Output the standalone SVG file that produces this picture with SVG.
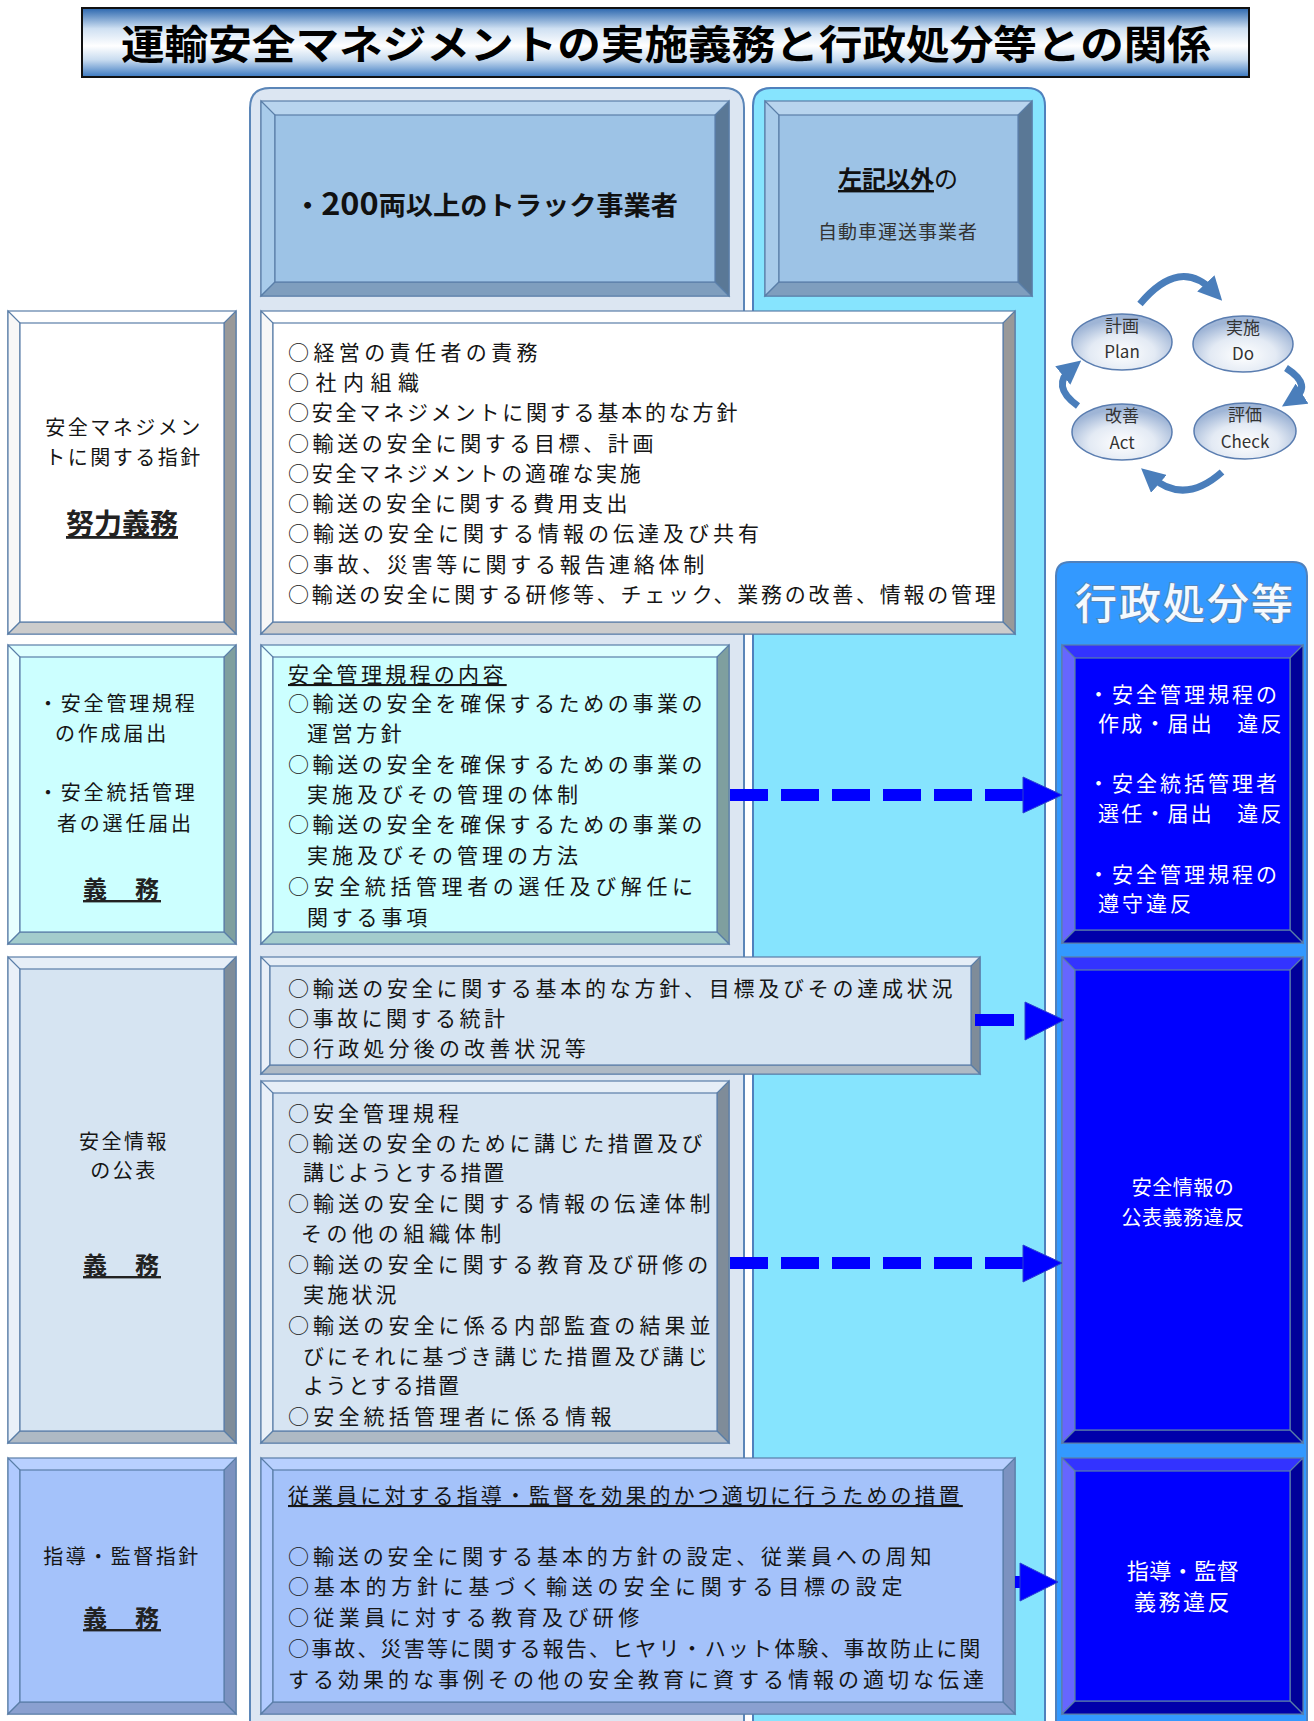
<svg xmlns="http://www.w3.org/2000/svg" width="1314" height="1721" viewBox="0 0 1314 1721">
<defs>
<linearGradient id="gTitle" x1="0" y1="0" x2="0" y2="1">
<stop offset="0" stop-color="#2A66AE"/>
<stop offset="0.3" stop-color="#CFE0F2"/>
<stop offset="0.55" stop-color="#FFFFFF"/>
<stop offset="0.75" stop-color="#C9DCF0"/>
<stop offset="1" stop-color="#3A78C0"/>
</linearGradient>
<radialGradient id="gEll" cx="0.5" cy="0.7" r="0.6">
<stop offset="0" stop-color="#FFFFFF"/>
<stop offset="0.55" stop-color="#E3EAF4"/>
<stop offset="1" stop-color="#9FB5D6"/>
</radialGradient>
<marker id="cyc" viewBox="0 0 10 10" refX="5" refY="5" markerWidth="3.4" markerHeight="3.4" orient="auto">
<path d="M0,0 L10,5 L0,10 z" fill="#4A7EBB"/>
</marker>
<style>
.t{font-family:"Noto Sans CJK JP","Noto Sans CJK SC",sans-serif;font-size:21px;fill:#151515;letter-spacing:3px}
.lb{font-family:"Noto Sans CJK JP","Noto Sans CJK SC",sans-serif;font-size:20px;fill:#151515;letter-spacing:2.5px}
.bd{font-family:"Noto Sans CJK JP","Noto Sans CJK SC",sans-serif;font-weight:bold;fill:#222;text-decoration:underline}
.wt{font-family:"Noto Sans CJK JP","Noto Sans CJK SC",sans-serif;font-size:21px;fill:#FFFFFF;letter-spacing:3px}
.ul{text-decoration:underline}
.mid{text-anchor:middle}
.bv{stroke:#5A7EA8;stroke-width:1.2}
.cn{fill:#DCE6F2;stroke:#5B86B8;stroke-width:2}
.pd{font-family:"Noto Sans CJK JP","Noto Sans CJK SC",sans-serif;font-size:17px;fill:#333;text-anchor:middle}
.dash{stroke:#0000FF;stroke-width:12;stroke-dasharray:38 13;fill:none}
.ah{fill:#0000FF;stroke:#2A3FD0;stroke-width:1}
.cyc{fill:none;stroke:#4A7EBB;stroke-width:7;marker-end:url(#cyc)}
</style>
</defs>

<rect width="1314" height="1721" fill="#FFFFFF"/>

<!-- Title -->
<g id="title">
<rect x="82" y="8" width="1167" height="69" fill="url(#gTitle)" stroke="#111" stroke-width="2"/>
<text x="666" y="59" text-anchor="middle" font-family="Noto Sans CJK JP, Noto Sans CJK SC, sans-serif" font-weight="bold" font-size="40" fill="#000" textLength="1090" lengthAdjust="spacingAndGlyphs">運輸安全マネジメントの実施義務と行政処分等との関係</text>
</g>

<!-- Containers -->
<g id="container-large">
<path class="cn" d="M250,1730 V108 Q250,88 270,88 H724 Q744,88 744,108 V1730"/>
</g>
<g id="container-other">
<path d="M753,1730 V106 Q753,88 771,88 H1027 Q1045,88 1045,106 V1730" fill="#86E4FE" stroke="#4F81BD" stroke-width="2"/>
</g>
<g id="container-sanction">
<path d="M1056,1730 V576 Q1056,562 1070,562 H1293 Q1307,562 1307,576 V1730" fill="#3399FF" stroke="#4F81BD" stroke-width="2"/>
<text x="1185" y="619" text-anchor="middle" font-family="Noto Sans CJK JP, Noto Sans CJK SC, sans-serif" font-size="42" font-weight="500" fill="#F4FAFF" stroke="#5C86B6" stroke-width="2" paint-order="stroke" letter-spacing="2">行政処分等</text>
</g>

<!-- Header 1 -->
<g id="header-200">
<rect class="bv" x="261" y="101" width="468" height="195" fill="#B8D4EE"/>
<polygon class="bv" points="261,101 275,115 275,282 261,296" fill="#A8CBEA"/>
<polygon class="bv" points="729,101 729,296 715,282 715,115" fill="#5A7896"/>
<polygon class="bv" points="261,296 275,282 715,282 729,296" fill="#7F9EBE"/>
<rect class="bv" x="275" y="115" width="440" height="167" fill="#9DC3E6"/>
<text x="486" y="215" text-anchor="middle" font-family="Noto Sans CJK JP, Noto Sans CJK SC, sans-serif" font-weight="bold" font-size="26" fill="#111" textLength="384" lengthAdjust="spacingAndGlyphs">・<tspan font-size="31">200</tspan>両以上のトラック事業者</text>
</g>

<!-- Header 2 -->
<g id="header-other">
<rect class="bv" x="765" y="101" width="267" height="195" fill="#B8D4EE"/>
<polygon class="bv" points="765,101 779,115 779,282 765,296" fill="#A8CBEA"/>
<polygon class="bv" points="1032,101 1032,296 1018,282 1018,115" fill="#5A7896"/>
<polygon class="bv" points="765,296 779,282 1018,282 1032,296" fill="#7F9EBE"/>
<rect class="bv" x="779" y="115" width="239" height="167" fill="#9DC3E6"/>
<text x="898" y="188" text-anchor="middle" font-family="Noto Sans CJK JP, Noto Sans CJK SC, sans-serif" font-size="24" fill="#111"><tspan font-weight="bold" text-decoration="underline">左記以外</tspan>の</text>
<text x="898" y="239" text-anchor="middle" font-family="Noto Sans CJK JP, Noto Sans CJK SC, sans-serif" font-size="19" fill="#333" letter-spacing="1">自動車運送事業者</text>
</g>

<!-- PDCA -->
<g id="pdca-plan">
<ellipse cx="1122" cy="342" rx="50" ry="28" fill="url(#gEll)" stroke="#5A7DB0" stroke-width="1.5"/>
<text class="pd" x="1122" y="332">計画</text>
<text class="pd" x="1122" y="358">Plan</text>
</g>
<g id="pdca-do">
<ellipse cx="1243" cy="344" rx="50" ry="28" fill="url(#gEll)" stroke="#5A7DB0" stroke-width="1.5"/>
<text class="pd" x="1243" y="334">実施</text>
<text class="pd" x="1243" y="360">Do</text>
</g>
<g id="pdca-act">
<ellipse cx="1122" cy="432" rx="50" ry="28" fill="url(#gEll)" stroke="#5A7DB0" stroke-width="1.5"/>
<text class="pd" x="1122" y="422">改善</text>
<text class="pd" x="1122" y="449">Act</text>
</g>
<g id="pdca-check">
<ellipse cx="1245" cy="431" rx="51" ry="28" fill="url(#gEll)" stroke="#5A7DB0" stroke-width="1.5"/>
<text class="pd" x="1245" y="421">評価</text>
<text class="pd" x="1245" y="448">Check</text>
</g>

<!-- Row 1 -->
<g id="label-guideline">
<rect class="bv" x="8" y="311" width="228" height="323" fill="#FFFFFF"/>
<polygon class="bv" points="8,311 20,323 20,622 8,634" fill="#F7F7F7"/>
<polygon class="bv" points="236,311 236,634 224,622 224,323" fill="#999999"/>
<polygon class="bv" points="8,634 20,622 224,622 236,634" fill="#CCCCCC"/>
<rect class="bv" x="20" y="323" width="204" height="299" fill="#FFFFFF"/>
<text class="lb mid" x="124" y="435">安全マネジメン</text>
<text class="lb mid" x="124" y="465">トに関する指針</text>
<text class="bd mid" x="122" y="534" font-size="28">努力義務</text>
</g>
<g id="content-guideline">
<rect class="bv" x="261" y="311" width="754" height="323" fill="#FFFFFF"/>
<polygon class="bv" points="261,311 273,323 273,622 261,634" fill="#F7F7F7"/>
<polygon class="bv" points="1015,311 1015,634 1003,622 1003,323" fill="#999999"/>
<polygon class="bv" points="261,634 273,622 1003,622 1015,634" fill="#CCCCCC"/>
<rect class="bv" x="273" y="323" width="730" height="299" fill="#FFFFFF"/>
<text class="t" x="288" y="360" style="letter-spacing:4.4px">○経営の責任者の責務</text>
<text class="t" x="288" y="390" style="letter-spacing:6.5px">○社内組織</text>
<text class="t" x="288" y="420" style="letter-spacing:2.8px">○安全マネジメントに関する基本的な方針</text>
<text class="t" x="288" y="451" style="letter-spacing:3.6px">○輸送の安全に関する目標、計画</text>
<text class="t" x="288" y="481" style="letter-spacing:2.7px">○安全マネジメントの適確な実施</text>
<text class="t" x="288" y="511" style="letter-spacing:3.5px">○輸送の安全に関する費用支出</text>
<text class="t" x="288" y="541" style="letter-spacing:4px">○輸送の安全に関する情報の伝達及び共有</text>
<text class="t" x="288" y="572" style="letter-spacing:3.7px">○事故、災害等に関する報告連絡体制</text>
<text class="t" x="288" y="602" style="letter-spacing:2.75px">○輸送の安全に関する研修等、チェック、業務の改善、情報の管理</text>
</g>

<!-- Row 2 -->
<g id="label-rules">
<rect class="bv" x="8" y="645" width="228" height="299" fill="#DDFFFF"/>
<polygon class="bv" points="8,645 20,657 20,932 8,944" fill="#E8FFFF"/>
<polygon class="bv" points="236,645 236,944 224,932 224,657" fill="#7F9F9F"/>
<polygon class="bv" points="8,944 20,932 224,932 236,944" fill="#A3CCCC"/>
<rect class="bv" x="20" y="657" width="204" height="275" fill="#CCFFFF"/>
<text class="lb" x="38" y="711" style="letter-spacing:2.8px">・安全管理規程</text>
<text class="lb" x="55" y="741" style="letter-spacing:2.8px">の作成届出</text>
<text class="lb" x="38" y="800" style="letter-spacing:2.8px">・安全統括管理</text>
<text class="lb" x="57" y="831" style="letter-spacing:2.8px">者の選任届出</text>
<text class="bd mid" x="122" y="898" font-size="24" letter-spacing="2">義　務</text>
</g>
<g id="content-rules">
<rect class="bv" x="261" y="645" width="468" height="299" fill="#DDFFFF"/>
<polygon class="bv" points="261,645 273,657 273,932 261,944" fill="#E8FFFF"/>
<polygon class="bv" points="729,645 729,944 717,932 717,657" fill="#7F9F9F"/>
<polygon class="bv" points="261,944 273,932 717,932 729,944" fill="#A3CCCC"/>
<rect class="bv" x="273" y="657" width="444" height="275" fill="#CCFFFF"/>
<text class="t ul" x="288" y="682" style="letter-spacing:3.3px">安全管理規程の内容</text>
<text class="t" x="288" y="711" style="letter-spacing:3.6px">○輸送の安全を確保するための事業の</text>
<text class="t" x="307" y="741" style="letter-spacing:3.6px">運営方針</text>
<text class="t" x="288" y="772" style="letter-spacing:3.6px">○輸送の安全を確保するための事業の</text>
<text class="t" x="307" y="802" style="letter-spacing:4px">実施及びその管理の体制</text>
<text class="t" x="288" y="832" style="letter-spacing:3.6px">○輸送の安全を確保するための事業の</text>
<text class="t" x="307" y="863" style="letter-spacing:4px">実施及びその管理の方法</text>
<text class="t" x="288" y="894" style="letter-spacing:4.6px">○安全統括管理者の選任及び解任に</text>
<text class="t" x="307" y="925" style="letter-spacing:3.8px">関する事項</text>
</g>

<!-- Row 3 -->
<g id="label-disclosure">
<rect class="bv" x="8" y="957" width="228" height="486" fill="#E6EEF7"/>
<polygon class="bv" points="8,957 20,969 20,1431 8,1443" fill="#E9F0F8"/>
<polygon class="bv" points="236,957 236,1443 224,1431 224,969" fill="#7F8C99"/>
<polygon class="bv" points="8,1443 20,1431 224,1431 236,1443" fill="#AEB9C4"/>
<rect class="bv" x="20" y="969" width="204" height="462" fill="#D6E4F2"/>
<text class="lb mid" x="124" y="1149">安全情報</text>
<text class="lb mid" x="124" y="1178">の公表</text>
<text class="bd mid" x="122" y="1274" font-size="24" letter-spacing="2">義　務</text>
</g>
<g id="content-disclosure-a">
<rect class="bv" x="261" y="957" width="719" height="117" fill="#E6EEF7"/>
<polygon class="bv" points="261,957 270,966 270,1065 261,1074" fill="#E9F0F8"/>
<polygon class="bv" points="980,957 980,1074 971,1065 971,966" fill="#7F8C99"/>
<polygon class="bv" points="261,1074 270,1065 971,1065 980,1074" fill="#AEB9C4"/>
<rect class="bv" x="270" y="966" width="701" height="99" fill="#D6E4F2"/>
<text class="t" x="288" y="996" style="letter-spacing:3.75px">○輸送の安全に関する基本的な方針、目標及びその達成状況</text>
<text class="t" x="288" y="1026" style="letter-spacing:3.5px">○事故に関する統計</text>
<text class="t" x="288" y="1056" style="letter-spacing:4.15px">○行政処分後の改善状況等</text>
</g>
<g id="content-disclosure-b">
<rect class="bv" x="261" y="1081" width="468" height="362" fill="#E6EEF7"/>
<polygon class="bv" points="261,1081 273,1093 273,1431 261,1443" fill="#E9F0F8"/>
<polygon class="bv" points="729,1081 729,1443 717,1431 717,1093" fill="#7F8C99"/>
<polygon class="bv" points="261,1443 273,1431 717,1431 729,1443" fill="#AEB9C4"/>
<rect class="bv" x="273" y="1093" width="444" height="338" fill="#D6E4F2"/>
<text class="t" x="288" y="1121" style="letter-spacing:4px">○安全管理規程</text>
<text class="t" x="288" y="1151" style="letter-spacing:3.6px">○輸送の安全のために講じた措置及び</text>
<text class="t" x="303" y="1180" style="letter-spacing:1.6px">講じようとする措置</text>
<text class="t" x="288" y="1211" style="letter-spacing:4.1px">○輸送の安全に関する情報の伝達体制</text>
<text class="t" x="301" y="1241" style="letter-spacing:4.6px">その他の組織体制</text>
<text class="t" x="288" y="1272" style="letter-spacing:3.95px">○輸送の安全に関する教育及び研修の</text>
<text class="t" x="303" y="1302" style="letter-spacing:3.2px">実施状況</text>
<text class="t" x="288" y="1333" style="letter-spacing:4.1px">○輸送の安全に係る内部監査の結果並</text>
<text class="t" x="303" y="1364" style="letter-spacing:3px">びにそれに基づき講じた措置及び講じ</text>
<text class="t" x="303" y="1393" style="letter-spacing:1.6px">ようとする措置</text>
<text class="t" x="288" y="1424" style="letter-spacing:4.2px">○安全統括管理者に係る情報</text>
</g>

<!-- Row 4 -->
<g id="label-guidance">
<rect class="bv" x="8" y="1458" width="228" height="256" fill="#B8D0FF"/>
<polygon class="bv" points="8,1458 20,1470 20,1702 8,1714" fill="#B0CAFF"/>
<polygon class="bv" points="236,1458 236,1714 224,1702 224,1470" fill="#7C92C0"/>
<polygon class="bv" points="8,1714 20,1702 224,1702 236,1714" fill="#8AA0D0"/>
<rect class="bv" x="20" y="1470" width="204" height="232" fill="#A4C2FA"/>
<text class="lb mid" x="122" y="1564">指導・監督指針</text>
<text class="bd mid" x="122" y="1627" font-size="24" letter-spacing="2">義　務</text>
</g>
<g id="content-guidance">
<rect class="bv" x="261" y="1458" width="754" height="256" fill="#B8D0FF"/>
<polygon class="bv" points="261,1458 273,1470 273,1702 261,1714" fill="#B0CAFF"/>
<polygon class="bv" points="1015,1458 1015,1714 1003,1702 1003,1470" fill="#7C92C0"/>
<polygon class="bv" points="261,1714 273,1702 1003,1702 1015,1714" fill="#8AA0D0"/>
<rect class="bv" x="273" y="1470" width="730" height="232" fill="#A4C2FA"/>
<text class="t ul" x="288" y="1503" style="letter-spacing:3.1px">従業員に対する指導・監督を効果的かつ適切に行うための措置</text>
<text class="t" x="288" y="1564" style="letter-spacing:3.9px">○輸送の安全に関する基本的方針の設定、従業員への周知</text>
<text class="t" x="288" y="1594" style="letter-spacing:4.8px">○基本的方針に基づく輸送の安全に関する目標の設定</text>
<text class="t" x="288" y="1625" style="letter-spacing:4.4px">○従業員に対する教育及び研修</text>
<text class="t" x="288" y="1656" style="letter-spacing:2.15px">○事故、災害等に関する報告、ヒヤリ・ハット体験、事故防止に関</text>
<text class="t" x="288" y="1687" style="letter-spacing:4px">する効果的な事例その他の安全教育に資する情報の適切な伝達</text>
</g>

<!-- Sanction boxes -->
<g id="sanction-rules">
<rect class="bv" x="1062" y="645" width="241" height="298" fill="#3333FF"/>
<polygon class="bv" points="1062,645 1075,658 1075,930 1062,943" fill="#6666FF"/>
<polygon class="bv" points="1303,645 1303,943 1290,930 1290,658" fill="#000099"/>
<polygon class="bv" points="1062,943 1075,930 1290,930 1303,943" fill="#0000AA"/>
<rect class="bv" x="1075" y="658" width="215" height="272" fill="#0000FF"/>
<text class="wt" x="1088" y="702">・安全管理規程の</text>
<text class="wt" x="1098" y="731" style="letter-spacing:2.2px">作成・届出　違反</text>
<text class="wt" x="1088" y="791">・安全統括管理者</text>
<text class="wt" x="1098" y="821" style="letter-spacing:2.2px">選任・届出　違反</text>
<text class="wt" x="1088" y="882">・安全管理規程の</text>
<text class="wt" x="1098" y="911">遵守違反</text>
</g>
<g id="sanction-disclosure">
<rect class="bv" x="1062" y="957" width="241" height="486" fill="#3333FF"/>
<polygon class="bv" points="1062,957 1075,970 1075,1430 1062,1443" fill="#6666FF"/>
<polygon class="bv" points="1303,957 1303,1443 1290,1430 1290,970" fill="#000099"/>
<polygon class="bv" points="1062,1443 1075,1430 1290,1430 1303,1443" fill="#0000AA"/>
<rect class="bv" x="1075" y="970" width="215" height="460" fill="#0000FF"/>
<text class="wt mid" x="1183" y="1195" style="font-size:20px;letter-spacing:0.5px">安全情報の</text>
<text class="wt mid" x="1183" y="1225" style="font-size:20px;letter-spacing:0.5px">公表義務違反</text>
</g>
<g id="sanction-guidance">
<rect class="bv" x="1062" y="1458" width="241" height="256" fill="#3333FF"/>
<polygon class="bv" points="1062,1458 1075,1471 1075,1701 1062,1714" fill="#6666FF"/>
<polygon class="bv" points="1303,1458 1303,1714 1290,1701 1290,1471" fill="#000099"/>
<polygon class="bv" points="1062,1714 1075,1701 1290,1701 1303,1714" fill="#0000AA"/>
<rect class="bv" x="1075" y="1471" width="215" height="230" fill="#0000FF"/>
<text class="wt mid" x="1183" y="1579" style="font-size:22px;letter-spacing:0.5px">指導・監督</text>
<text class="wt mid" x="1183" y="1610" style="font-size:22px;letter-spacing:2.5px">義務違反</text>
</g>

<!-- Connectors -->
<g id="connectors">
<line class="dash" x1="730" y1="795" x2="1024" y2="795"/>
<polygon class="ah" points="1023,777 1062,795 1023,813"/>
<rect x="975" y="1014" width="39" height="12" fill="#0000FF"/>
<polygon class="ah" points="1025,1002 1064,1020 1025,1040"/>
<line class="dash" x1="730" y1="1263" x2="1024" y2="1263"/>
<polygon class="ah" points="1023,1245 1062,1263 1023,1282"/>
<rect x="1015" y="1576" width="8" height="12" fill="#0000FF"/>
<polygon class="ah" points="1020,1563 1058,1582 1020,1601"/>
<path class="cyc" d="M1140,304 Q1180,256 1214,292"/>
<path class="cyc" d="M1286,368 Q1314,386 1292,400"/>
<path class="cyc" d="M1222,472 Q1184,506 1150,476"/>
<path class="cyc" d="M1078,406 Q1050,386 1072,368"/>
</g>
</svg>
